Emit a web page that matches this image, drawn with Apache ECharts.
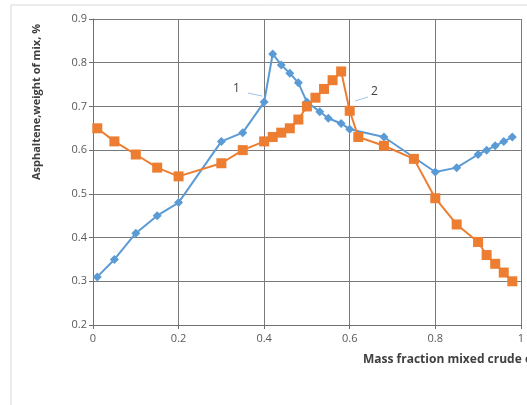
<!DOCTYPE html>
<html>
<head>
<meta charset="utf-8">
<script src="https://cdn.jsdelivr.net/npm/echarts@6/dist/echarts.min.js"></script>
<style>
  html, body { margin: 0; padding: 0; background: #fff; }
  #chartWrapper { width: 527px; height: 405px; }
</style>
</head>
<body>
<div id="chartWrapper"></div>
<script>
// 曲線1 (藍色菱形)
const xs1 = [0.01, 0.05, 0.1, 0.15, 0.2, 0.3, 0.35, 0.4, 0.42, 0.44, 0.46, 0.48, 0.5, 0.53, 0.55, 0.58, 0.6, 0.68, 0.8, 0.85, 0.9, 0.92, 0.94, 0.96, 0.98]
const ys1 = [0.31, 0.35, 0.41, 0.45, 0.48, 0.62, 0.64, 0.71, 0.82, 0.795, 0.776, 0.754, 0.71, 0.688, 0.673, 0.661, 0.648, 0.63, 0.55, 0.56, 0.59, 0.60, 0.61, 0.62, 0.63]
// 曲線2 (橘色方塊)
const xs2 = [0.01, 0.05, 0.1, 0.15, 0.2, 0.3, 0.35, 0.4, 0.42, 0.44, 0.46, 0.48, 0.5, 0.52, 0.54, 0.56, 0.58, 0.6, 0.62, 0.68, 0.75, 0.8, 0.85, 0.9, 0.92, 0.94, 0.96, 0.98]
const ys2 = [0.65, 0.62, 0.59, 0.56, 0.54, 0.57, 0.60, 0.62, 0.63, 0.64, 0.65, 0.67, 0.70, 0.72, 0.74, 0.76, 0.78, 0.69, 0.63, 0.61, 0.58, 0.49, 0.43, 0.39, 0.36, 0.34, 0.32, 0.30]
const xTicks = [0, 0.2, 0.4, 0.6, 0.8, 1]
const yTicks = [0.2, 0.3, 0.4, 0.5, 0.6, 0.7, 0.8, 0.9]

const myChart = echarts.init(document.getElementById("chartWrapper"))
const pairs = (xs, ys) => xs.map((x, i) => [x, ys[i]])

let option = {
  animation: false,
  grid: { left: 93, top: 19, width: 428, height: 306 },
  xAxis: {
    type: "value",
    min: 0, max: 1, interval: 0.2,
    axisLine: { show: true, lineStyle: { color: "#6f6f6f" } },
    axisTick: { show: true, length: 4, lineStyle: { color: "#6f6f6f" } },
    axisLabel: {
      color: "#595959", fontSize: 11, fontFamily: "Open Sans", margin: 8,
      formatter: v => xTicks.includes(+v.toFixed(1)) ? String(+v.toFixed(1)) : ""
    },
    splitLine: { show: true, lineStyle: { color: "#7a7a7a", width: 1 } }
  },
  yAxis: {
    type: "value",
    min: 0.2, max: 0.9, interval: 0.1,
    axisLine: { show: true, lineStyle: { color: "#6f6f6f" } },
    axisTick: { show: true, length: 4, lineStyle: { color: "#6f6f6f" } },
    axisLabel: {
      color: "#595959", fontSize: 11, fontFamily: "Open Sans", margin: 6,
      formatter: v => yTicks.includes(+v.toFixed(1)) ? v.toFixed(1) : ""
    },
    splitLine: { show: true, lineStyle: { color: "#7a7a7a", width: 1 } }
  },
  series: [
    {
      name: "1", type: "line",
      data: pairs(xs1, ys1),
      symbol: "diamond", symbolSize: 9,
      itemStyle: { color: "#5B9BD5" },
      lineStyle: { color: "#5B9BD5", width: 2 }
    },
    {
      name: "2", type: "line",
      data: pairs(xs2, ys2),
      symbol: "rect", symbolSize: 10,
      itemStyle: { color: "#ED7D31" },
      lineStyle: { color: "#ED7D31", width: 2 }
    }
  ],
  graphic: [
    { type: "rect", shape: { x: 11, y: 5, width: 700, height: 600 }, style: { fill: null, stroke: "#d9d9d9", lineWidth: 1 }, silent: true },
    { type: "text", x: 233, y: 83, style: { text: "1", fontSize: 12, fontFamily: "Open Sans", fill: "#404040" } },
    { type: "line", shape: { x1: 248, y1: 93, x2: 262, y2: 96 }, style: { stroke: "#9dc3e6", lineWidth: 1 } },
    { type: "text", x: 371, y: 86, style: { text: "2", fontSize: 12, fontFamily: "Open Sans", fill: "#404040" } },
    { type: "line", shape: { x1: 355, y1: 101, x2: 368, y2: 97 }, style: { stroke: "#9dc3e6", lineWidth: 1 } },
    { type: "text", x: 363, y: 354, style: { text: "Mass fraction mixed crude oil", fontSize: 12, fontWeight: "bold", fontFamily: "Open Sans", fill: "#404040" } },
    { type: "text", x: 37, y: 102, rotation: Math.PI / 2, style: { text: "Asphaltene,weight of mix, %", fontSize: 11, fontWeight: "bold", fontFamily: "Open Sans", fill: "#404040", align: "center", verticalAlign: "middle" } }
  ]
}

myChart.setOption(option)
</script>
</body>
</html>
